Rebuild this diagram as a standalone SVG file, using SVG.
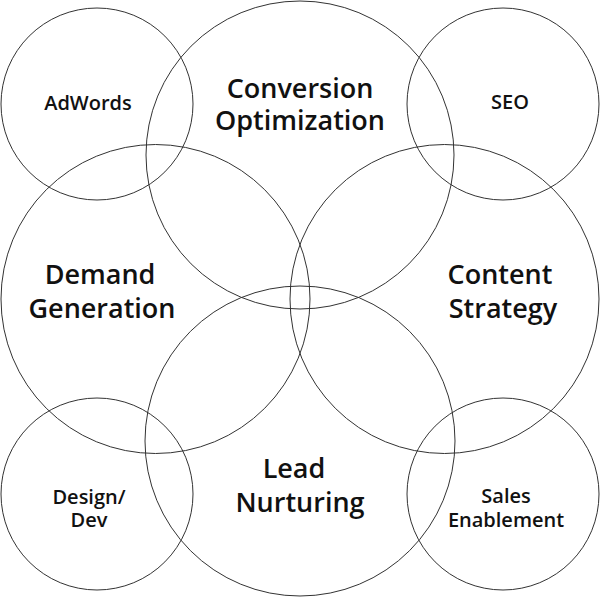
<svg xmlns="http://www.w3.org/2000/svg" width="600" height="597" viewBox="0 0 600 597">
<style>
circle{fill:none;stroke:#333;stroke-width:1}
text{font-family:"Open Sans","Liberation Sans",sans-serif;font-weight:600;fill:#111;text-anchor:middle}
.b{font-size:27px}
.s{font-size:20px}
</style>
<rect width="600" height="597" fill="#fff"/>
<g id="adwords"><circle cx="97" cy="104" r="96"/><text class="s" x="88" y="110">AdWords</text></g>
<g id="seo"><circle cx="503" cy="104" r="96"/><text class="s" x="510" y="109">SEO</text></g>
<g id="design-dev"><circle cx="97" cy="494" r="96"/><text class="s" x="89" y="504">Design/</text><text class="s" x="89" y="527">Dev</text></g>
<g id="sales"><circle cx="503" cy="494" r="96"/><text class="s" x="506" y="503">Sales</text><text class="s" x="506" y="527">Enablement</text></g>
<g id="conversion"><circle cx="300" cy="155" r="154"/><text class="b" x="300" y="98">Conversion</text><text class="b" x="300" y="130">Optimization</text></g>
<g id="demand"><circle cx="155.5" cy="299" r="154.5"/><text class="b" x="100" y="284">Demand</text><text class="b" x="102" y="318">Generation</text></g>
<g id="content"><circle cx="444.5" cy="299" r="154.5"/><text class="b" x="500" y="284">Content</text><text class="b" x="503" y="318">Strategy</text></g>
<g id="lead"><circle cx="300" cy="441" r="155"/><text class="b" x="294" y="478">Lead</text><text class="b" x="300" y="512">Nurturing</text></g>
<g id="connectors"></g>
</svg>
